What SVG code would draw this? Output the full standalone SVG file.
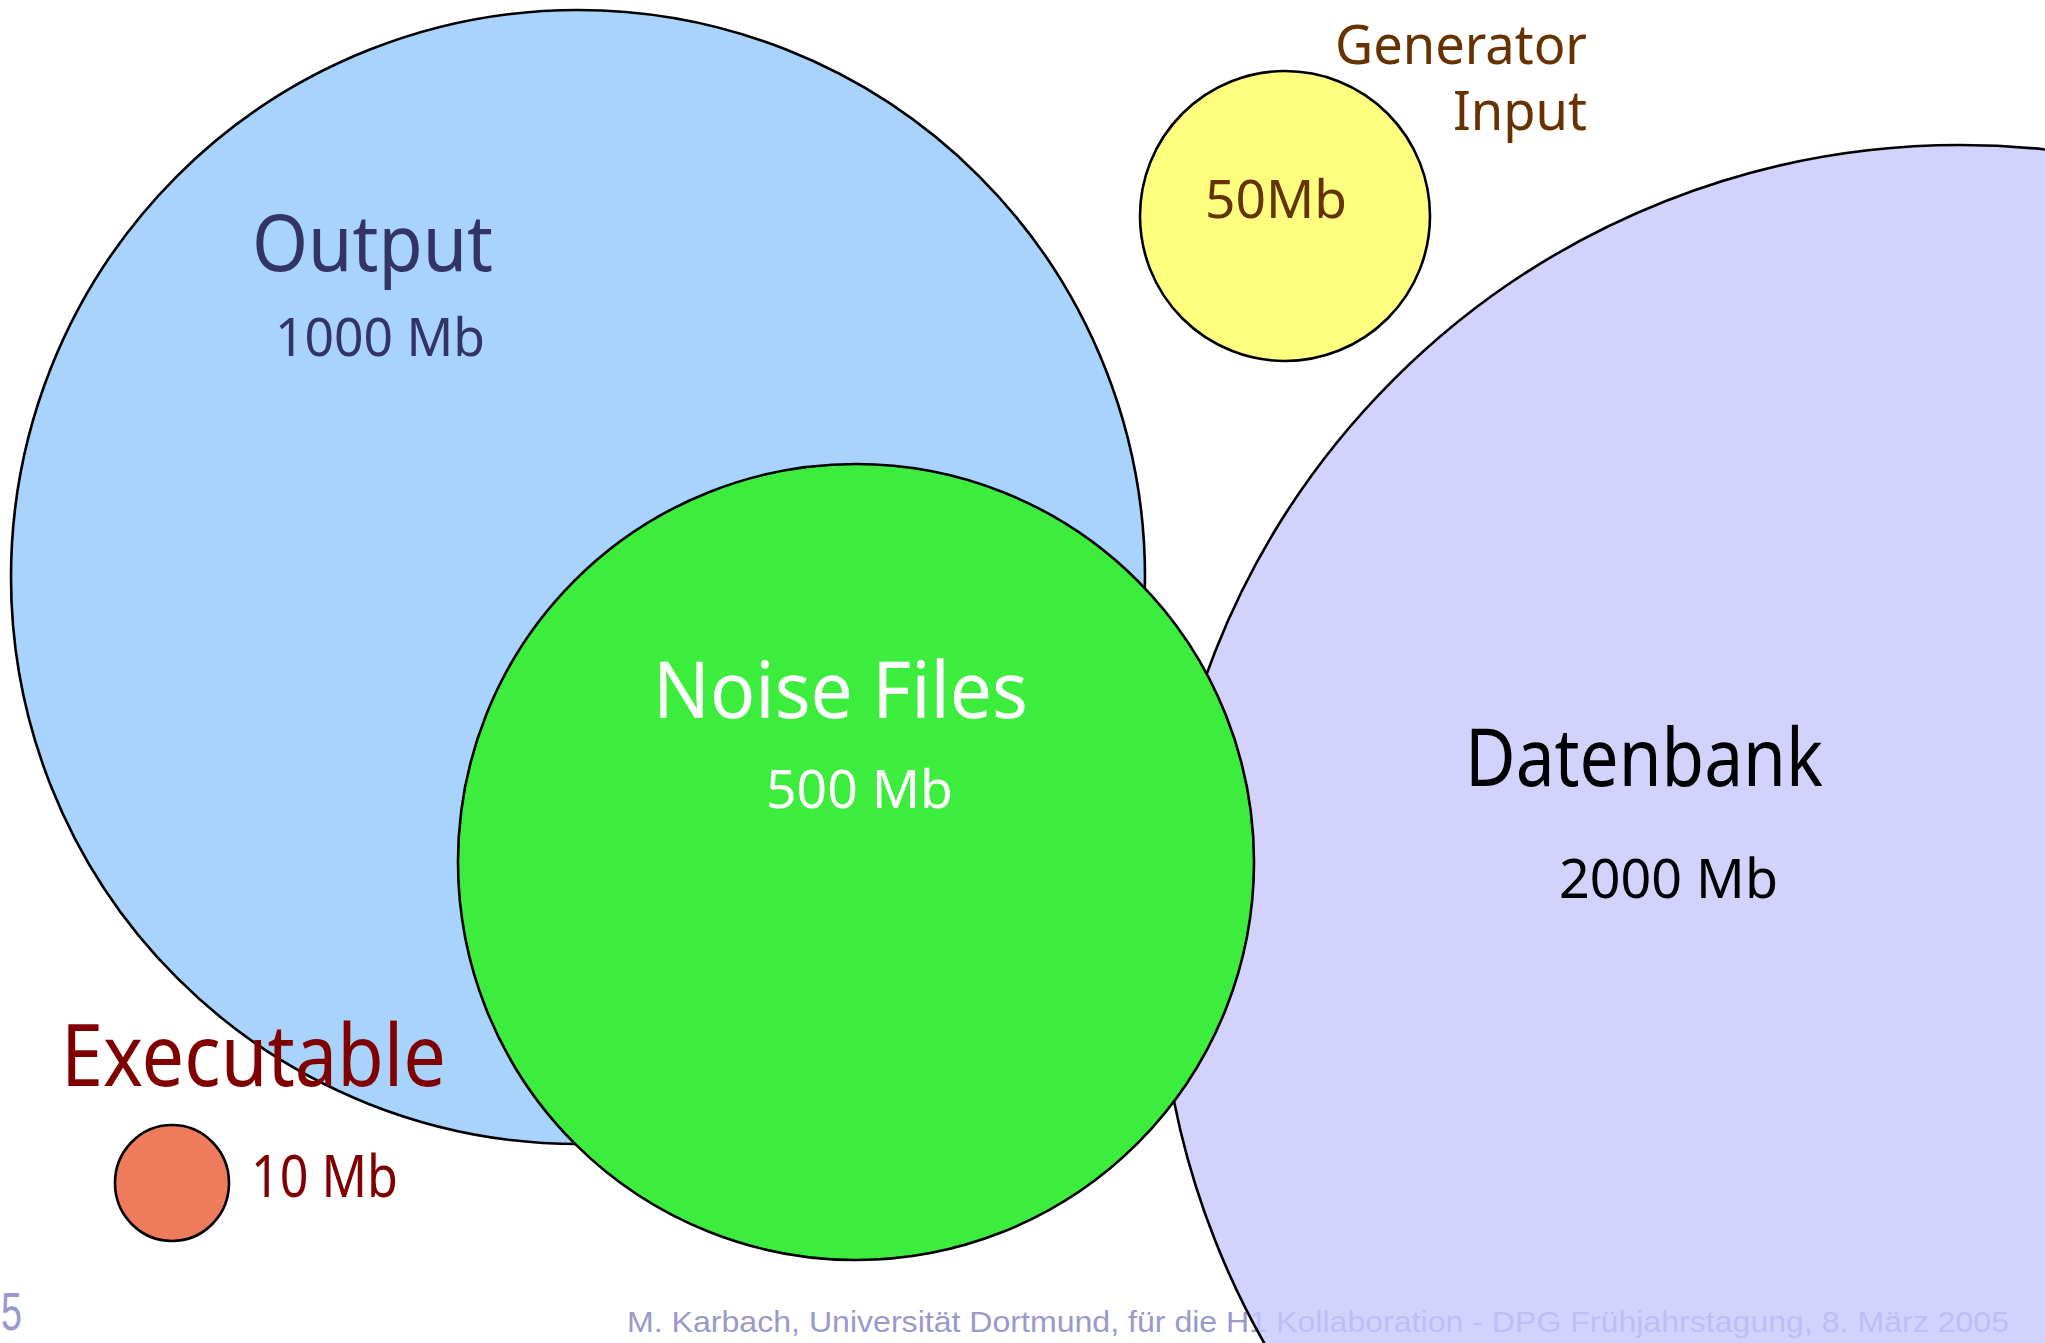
<svg xmlns="http://www.w3.org/2000/svg" width="2045" height="1343" viewBox="0 0 2045 1343">
<style>
.c{stroke:#000;stroke-width:2.6}
.t{font-family:"Noto Sans","DejaVu Sans",sans-serif}
.ft{font-family:"Liberation Sans",Arial,sans-serif;font-size:30px;fill:#9999cc}
</style>
<rect x="0" y="0" width="2045" height="1343" fill="#ffffff"/>
<text class="ft" x="627" y="1332" textLength="1382" lengthAdjust="spacingAndGlyphs">M. Karbach, Universität Dortmund, für die H1 Kollaboration - DPG Frühjahrstagung, 8. März 2005</text>
<text class="ft" x="1" y="1330" style="font-size:53px" textLength="21" lengthAdjust="spacingAndGlyphs">5</text>
<g id="output">
<circle class="c" cx="578" cy="577" r="567" fill="#a7d3fd"/>
<text class="t" x="252" y="271" font-size="78" fill="#333366" textLength="241" lengthAdjust="spacingAndGlyphs">Output</text>
<text class="t" x="275" y="356" font-size="53" fill="#333366" textLength="210" lengthAdjust="spacingAndGlyphs">1000 Mb</text>
</g>
<g id="datenbank">
<circle class="c" cx="1960" cy="946" r="801" fill="#c7c7fc" fill-opacity="0.8"/>
<text class="t" x="1465" y="786" font-size="80" fill="#000000" textLength="358" lengthAdjust="spacingAndGlyphs">Datenbank</text>
<text class="t" x="1559" y="898" font-size="54" fill="#000000" textLength="219" lengthAdjust="spacingAndGlyphs">2000 Mb</text>
</g>
<g id="noise">
<circle class="c" cx="856" cy="862" r="398" fill="#3ded3d"/>
<text class="t" x="653" y="718" font-size="78" fill="#ffffff" textLength="375" lengthAdjust="spacingAndGlyphs">Noise Files</text>
<text class="t" x="766" y="808" font-size="52" fill="#ffffff" textLength="187" lengthAdjust="spacingAndGlyphs">500 Mb</text>
</g>
<g id="generator">
<circle class="c" cx="1285" cy="216" r="145" fill="#ffff7f"/>
<text class="t" x="1205" y="218" font-size="53" fill="#663300" textLength="142" lengthAdjust="spacingAndGlyphs">50Mb</text>
<text class="t" x="1335" y="64" font-size="55" fill="#663300" textLength="252" lengthAdjust="spacingAndGlyphs">Generator</text>
<text class="t" x="1453" y="130" font-size="54" fill="#663300" textLength="134" lengthAdjust="spacingAndGlyphs">Input</text>
</g>
<g id="executable">
<ellipse class="c" cx="172" cy="1183" rx="57" ry="58" fill="#ef7b5d"/>
<text class="t" x="61" y="1086" font-size="85" fill="#800000" textLength="385" lengthAdjust="spacingAndGlyphs">Executable</text>
<text class="t" x="251" y="1197" font-size="58" fill="#800000" textLength="147" lengthAdjust="spacingAndGlyphs">10 Mb</text>
</g>
<g id="connectors"></g>
</svg>
